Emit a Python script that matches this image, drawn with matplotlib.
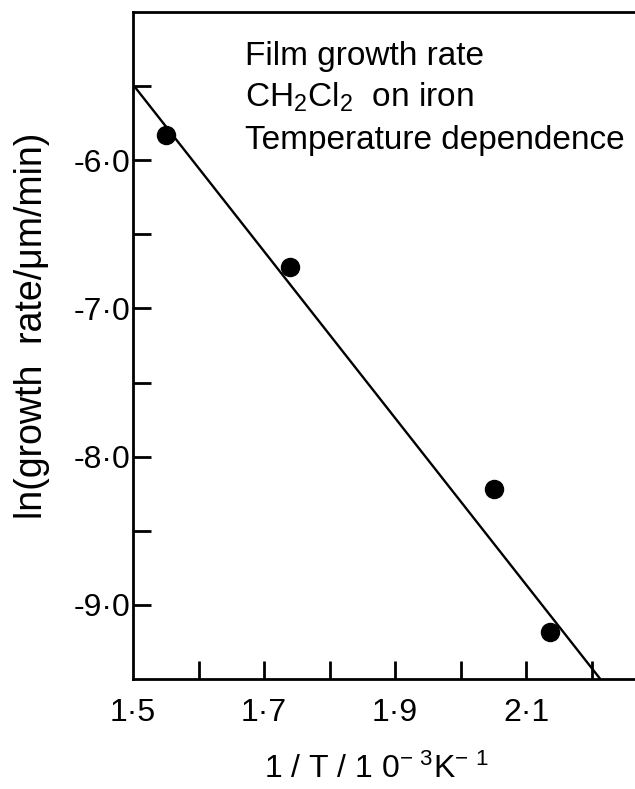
import matplotlib
matplotlib.use("Agg")
import matplotlib.pyplot as plt
from matplotlib.ticker import FixedLocator, FuncFormatter

# data
inv_T = [1.550, 1.740, 2.051, 2.137]          # 1/T / 10^-3 K^-1
ln_rate = [-5.83, -6.72, -8.22, -9.18]        # ln(growth rate / um/min)
fit_x = [1.50, 2.213]                         # straight-line fit end points
fit_y = [-5.49, -9.50]

x_labelled = [1.5, 1.7, 1.9, 2.1]
x_marks = [1.6, 1.7, 1.8, 1.9, 2.0, 2.1, 2.2]
y_labelled = [-6.0, -7.0, -8.0, -9.0]
y_marks = [-5.5, -6.0, -6.5, -7.0, -7.5, -8.0, -8.5, -9.0]

note_lines = ["Film growth rate", "CH$_2$Cl$_2$  on iron", "Temperature dependence"]

plt.rcParams["mathtext.default"] = "regular"
font = ["Liberation Sans", "DejaVu Sans"]

fig = plt.figure(figsize=(6.35, 7.89), dpi=100)
ax = fig.add_axes([133 / 635, 1 - 679 / 789, 1 - 133 / 635, 667 / 789])
ax.set_zorder(1)

ax.plot(fit_x, fit_y, "-", color="black", lw=1.7, solid_capstyle="butt")
ax.plot(inv_T, ln_rate, "o", color="black", ms=13, mec="black")

ax.set_xlim(1.5, 2.266)
ax.set_ylim(-9.5, -5.0)

ax.spines["right"].set_visible(False)
for s in ("left", "bottom", "top"):
    ax.spines[s].set_linewidth(2.0)

dot = FuncFormatter(lambda v, p: f"{v:.1f}".replace(".", "\u00b7"))
# labels as major ticks (no marks), inward marks as minor ticks
ax.xaxis.set_major_locator(FixedLocator(x_labelled))
ax.xaxis.set_major_formatter(dot)
ax.yaxis.set_major_locator(FixedLocator(y_labelled))
ax.yaxis.set_major_formatter(dot)
ax.xaxis.set_minor_locator(FixedLocator(x_marks))
ax.yaxis.set_minor_locator(FixedLocator(y_marks))
ax.xaxis.remove_overlapping_locs = False
ax.yaxis.remove_overlapping_locs = False

ax.tick_params(axis="x", which="major", length=0, pad=14)
ax.tick_params(axis="y", which="major", length=0, pad=2)
ax.tick_params(which="minor", direction="in", length=13, width=2.0)
for lab in ax.get_xticklabels() + ax.get_yticklabels():
    lab.set_family(font)
    lab.set_fontsize(23)

ax.set_xlabel("1 / T / 1 0$^{-\\ 3}$K$^{-\\ 1}$", family=font, fontsize=23)
ax.xaxis.set_label_coords(0.484, -0.112)
ax.set_ylabel("ln(growth  rate/\u03bcm/min)", family=font, fontsize=27, va="center")
ax.yaxis.set_label_coords(-0.201, 0.529)

for i, line in enumerate(note_lines):
    fig.text(245 / 635, 1 - (65 + 42 * i) / 789, line, family=font,
             fontsize=24, va="baseline")

fig.savefig("out.png", dpi=100)
